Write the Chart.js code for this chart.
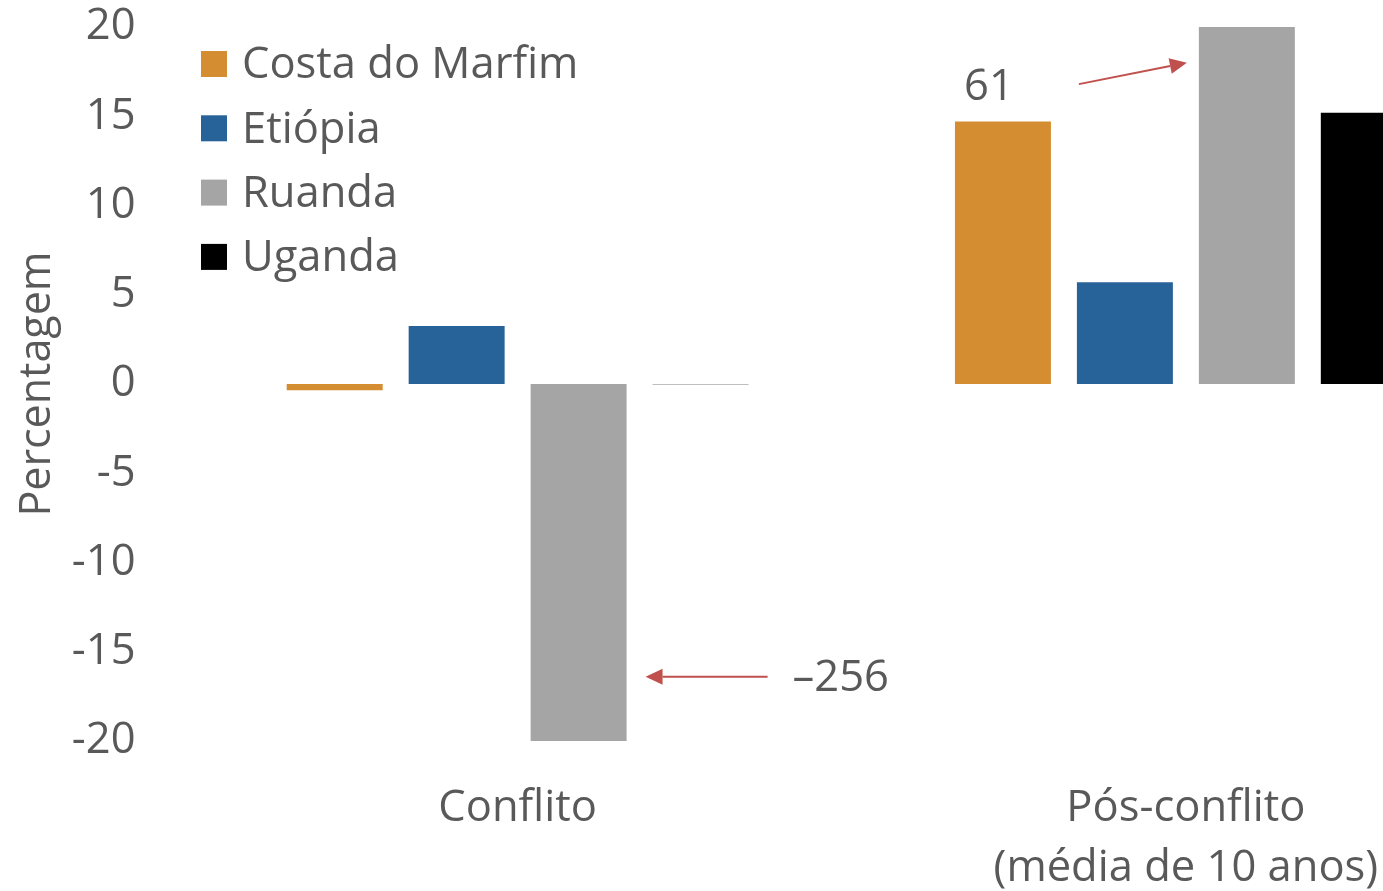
<!DOCTYPE html>
<html lang="pt">
<head>
    <meta charset="UTF-8">
    <title>Percentagem - Conflito e Pós-conflito</title>
    <script src="https://cdn.jsdelivr.net/npm/chart.js"></script>
    <style>
        html, body { margin: 0; padding: 0; background: #fff; overflow: hidden; }
        #wrap { width: 1530px; height: 891px; }
    </style>
</head>
<body>
    <div id="wrap"><canvas id="chart" width="1530" height="891"></canvas></div>
    <script>
        // data (bars beyond ±20 are clipped at the axis)
        const categories = [['Conflito'], ['Pós-conflito', '(média de 10 anos)']];
        const countries = ['Costa do Marfim', 'Etiópia', 'Ruanda', 'Uganda'];
        const costaDoMarfim = [-0.35, 14.7];
        const etiopia = [3.25, 5.7];
        const ruanda = [-20, 20];
        const uganda = [-0.012, 15.2];
        const colors = ['#D48D30', '#276399', '#A5A5A5', '#000000'];
        const yTicks = [-20, -15, -10, -5, 0, 5, 10, 15, 20];
        const notes = [{ text: '61', value: 61 }, { text: '\u2013256', value: -256 }];

        const FONT = '"Open Sans", "Noto Sans", sans-serif';
        const TEXT = '#595959';
        const ARROW = '#C0504D';

        const legendPlugin = {
            id: 'sideLegend',
            afterDraw(chart) {
                const ctx = chart.ctx;
                const x0 = chart.chartArea.left + 17.5;
                ctx.save();
                ctx.font = '43.5px ' + FONT;
                ctx.textBaseline = 'middle';
                countries.forEach((name, i) => {
                    const y = 64 + i * 64.3;
                    ctx.fillStyle = colors[i];
                    ctx.fillRect(x0, y - 13, 26, 26);
                    ctx.fillStyle = TEXT;
                    ctx.fillText(name, x0 + 41, y + 2);
                });
                ctx.restore();
            }
        };

        function arrow(ctx, x1, y1, x2, y2) {
            const a = Math.atan2(y2 - y1, x2 - x1);
            const len = 17, w = 8;
            const bx = x2 - len * Math.cos(a), by = y2 - len * Math.sin(a);
            ctx.beginPath();
            ctx.moveTo(x1, y1);
            ctx.lineTo(bx, by);
            ctx.stroke();
            ctx.beginPath();
            ctx.moveTo(x2, y2);
            ctx.lineTo(bx + w * Math.sin(a), by - w * Math.cos(a));
            ctx.lineTo(bx - w * Math.sin(a), by + w * Math.cos(a));
            ctx.closePath();
            ctx.fill();
        }

        const notesPlugin = {
            id: 'outliers',
            afterDatasetsDraw(chart) {
                const ctx = chart.ctx;
                const y = chart.scales.y;
                const cdm = chart.getDatasetMeta(0).data[1];
                const rwPost = chart.getDatasetMeta(2).data[1];
                const rwConf = chart.getDatasetMeta(2).data[0];
                ctx.save();
                ctx.font = '43.5px ' + FONT;
                ctx.fillStyle = TEXT;
                ctx.textBaseline = 'middle';
                ctx.textAlign = 'center';
                ctx.fillText(notes[0].text, cdm.x - 14, y.getPixelForValue(16.6));
                ctx.textAlign = 'left';
                ctx.fillText(notes[1].text, rwConf.x + rwConf.width / 2 + 166, y.getPixelForValue(-16.5));

                ctx.strokeStyle = ARROW;
                ctx.fillStyle = ARROW;
                ctx.lineWidth = 2;
                const left = rwPost.x - rwPost.width / 2;
                arrow(ctx, left - 120, y.getPixelForValue(16.8), left - 12, y.getPixelForValue(18.0));
                const right = rwConf.x + rwConf.width / 2;
                const ya = y.getPixelForValue(-16.4);
                arrow(ctx, right + 141, ya, right + 19, ya);
                ctx.restore();
            }
        };

        new Chart(document.getElementById('chart'), {
            type: 'bar',
            data: {
                labels: categories,
                datasets: [
                    { label: countries[0], data: costaDoMarfim, backgroundColor: colors[0] },
                    { label: countries[1], data: etiopia, backgroundColor: colors[1] },
                    { label: countries[2], data: ruanda, backgroundColor: colors[2] },
                    { label: countries[3], data: uganda, backgroundColor: colors[3] }
                ]
            },
            options: {
                responsive: false,
                animation: false,
                categoryPercentage: 0.73,
                barPercentage: 0.787,
                layout: { padding: { top: 27, right: 10, left: 0, bottom: 0 } },
                plugins: {
                    legend: { display: false },
                    tooltip: { enabled: false }
                },
                scales: {
                    x: {
                        grid: { display: false, drawTicks: false },
                        border: { display: false },
                        ticks: {
                            color: TEXT,
                            font: { family: FONT, size: 43.5, lineHeight: 1.38 },
                            padding: 38,
                            maxRotation: 0
                        },
                        afterFit(scale) {
                            scale.height = 150;
                            scale.paddingLeft = 0;
                            scale.paddingRight = 0;
                        }
                    },
                    y: {
                        min: -20,
                        max: 20,
                        afterBuildTicks(scale) { scale.ticks = yTicks.map(v => ({ value: v })); },
                        grid: { display: false, drawTicks: false },
                        border: { display: false },
                        ticks: {
                            color: TEXT,
                            font: { family: FONT, size: 43.5 },
                            padding: 48
                        },
                        title: {
                            display: true,
                            text: 'Percentagem',
                            color: TEXT,
                            font: { family: FONT, size: 43 },
                            padding: { top: 12, bottom: 0 }
                        },
                        afterFit(scale) {
                            scale.width = 183.5;
                            scale.paddingTop = 0;
                            scale.paddingBottom = 0;
                        }
                    }
                }
            },
            plugins: [legendPlugin, notesPlugin]
        });
    </script>
</body>
</html>
